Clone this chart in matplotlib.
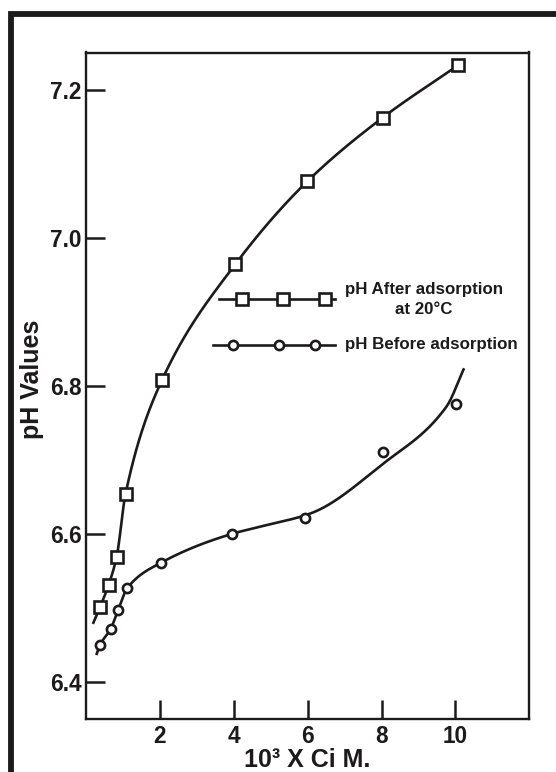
import numpy as np
import matplotlib
matplotlib.use("Agg")
import matplotlib.pyplot as plt
from matplotlib.lines import Line2D

# ---------------- data ----------------
conc_after = [0.38, 0.61, 0.83, 1.07, 2.06, 4.04, 5.99, 8.03, 10.08]
ph_after = [6.501, 6.531, 6.569, 6.654, 6.808, 6.964, 7.076, 7.162, 7.233]

conc_before = [0.38, 0.67, 0.87, 1.12, 2.03, 3.95, 5.92, 8.05, 10.01]
ph_before = [6.450, 6.472, 6.497, 6.527, 6.561, 6.600, 6.622, 6.711, 6.775]

# smooth hand-drawn curves (knots)
curve_after_x = [0.20, 0.38, 0.61, 0.83, 1.07, 2.06, 4.04, 5.99, 8.03, 10.08]
curve_after_y = [6.480, 6.501, 6.531, 6.569, 6.654, 6.808, 6.964, 7.076, 7.162, 7.233]

curve_before_x = [0.29, 0.38, 0.67, 0.87, 1.12, 2.03, 3.95, 4.74, 6.10, 8.05, 9.76, 10.22]
curve_before_y = [6.438, 6.450, 6.472, 6.497, 6.527, 6.561, 6.600, 6.610, 6.628, 6.695, 6.772, 6.822]

x_ticks = [2, 4, 6, 8, 10]
y_ticks = [6.4, 6.6, 6.8, 7.0, 7.2]

label_after = "pH After adsorption\nat 20°C"
label_before = "pH Before adsorption"
x_label = "10³ X Ci M."
y_label = "pH Values"


def pchip(x, y, n=400):
    x = np.asarray(x, float)
    y = np.asarray(y, float)
    h = np.diff(x)
    d = np.diff(y) / h
    m = np.zeros_like(y)
    for k in range(1, len(x) - 1):
        if d[k - 1] * d[k] > 0:
            w1 = 2 * h[k] + h[k - 1]
            w2 = h[k] + 2 * h[k - 1]
            m[k] = (w1 + w2) / (w1 / d[k - 1] + w2 / d[k])
    m[0] = d[0]
    m[-1] = d[-1]
    xs = np.linspace(x[0], x[-1], n)
    idx = np.clip(np.searchsorted(x, xs) - 1, 0, len(x) - 2)
    t = (xs - x[idx]) / h[idx]
    h00 = 2 * t**3 - 3 * t**2 + 1
    h10 = t**3 - 2 * t**2 + t
    h01 = -2 * t**3 + 3 * t**2
    h11 = t**3 - t**2
    ys = h00 * y[idx] + h10 * h[idx] * m[idx] + h01 * y[idx + 1] + h11 * h[idx] * m[idx + 1]
    return xs, ys


plt.rcParams['font.family'] = ['Liberation Sans', 'DejaVu Sans']
plt.rcParams['font.weight'] = 'bold'

W, H = 556, 772
fig = plt.figure(figsize=(W / 100, H / 100), dpi=100)
ax = fig.add_axes([86 / W, 1 - 719 / H, (529.3 - 86) / W, (719 - 52.5) / H])

ink = '#1c1a1a'
lw = 1.9
sq_ms = 8.9
ci_ms = 6.6

xs, ys = pchip(curve_after_x, curve_after_y)
ax.plot(xs, ys, color=ink, lw=lw, zorder=2)
xs, ys = pchip(curve_before_x, curve_before_y)
ax.plot(xs, ys, color=ink, lw=lw, zorder=2)

ax.plot(conc_after, ph_after, ls='none', marker='s', ms=sq_ms, mfc='white',
        mec=ink, mew=1.9, zorder=3)
ax.plot(conc_before, ph_before, ls='none', marker='o', ms=ci_ms, mfc='white',
        mec=ink, mew=1.9, zorder=3)

ax.set_xlim(0, 12)
ax.set_ylim(6.35, 7.25)
ax.set_xticks(x_ticks)
ax.set_xticklabels([str(v) for v in x_ticks])
ax.set_yticks(y_ticks)
ax.set_yticklabels([f"{v:.1f}" for v in y_ticks])
ax.tick_params(direction='in', length=13.5, width=1.8, color=ink,
               labelsize=16.3, labelcolor=ink)
ax.tick_params(axis='x', pad=4.5)
ax.tick_params(axis='y', pad=3)
for s in ax.spines.values():
    s.set_linewidth(1.7)
    s.set_color(ink)

ax.set_xlabel(x_label, fontsize=18, fontweight='bold', color=ink, labelpad=0)
ax.set_ylabel(y_label, fontsize=18, fontweight='bold', color=ink)
ax.yaxis.set_label_coords(-0.094, 0.51)

# legend drawn by hand (figure-pixel placement)
def fx(px):
    return px / W

def fy(py):
    return 1 - py / H

leg1_x = [241.7, 283.3, 325.0]
fig.add_artist(Line2D([fx(219.3), fx(335)], [fy(299.3)] * 2, color=ink, lw=lw))
fig.add_artist(Line2D([fx(p) for p in leg1_x], [fy(299.3)] * 3, ls='none', marker='s',
                      ms=sq_ms, mfc='white', mec=ink, mew=1.9))
fig.text(fx(345), fy(299.3), label_after, ha='left', va='center', multialignment='center',
         fontsize=12.2, fontweight='bold', color=ink, linespacing=1.4)

leg2_x = [233.3, 279.0, 315.0]
fig.add_artist(Line2D([fx(213.3), fx(335)], [fy(345)] * 2, color=ink, lw=lw))
fig.add_artist(Line2D([fx(p) for p in leg2_x], [fy(345)] * 3, ls='none', marker='o',
                      ms=ci_ms, mfc='white', mec=ink, mew=1.9))
fig.text(fx(345), fy(345), label_before, ha='left', va='center',
         fontsize=12.2, fontweight='bold', color=ink)

# outer frame (left and top edges visible)
fig.add_artist(Line2D([fx(11.2), fx(11.2), 1.0], [0.0, fy(14.2), fy(14.2)],
                      color=ink, lw=4.2, solid_joinstyle='miter'))

fig.savefig("out.png", dpi=100)
